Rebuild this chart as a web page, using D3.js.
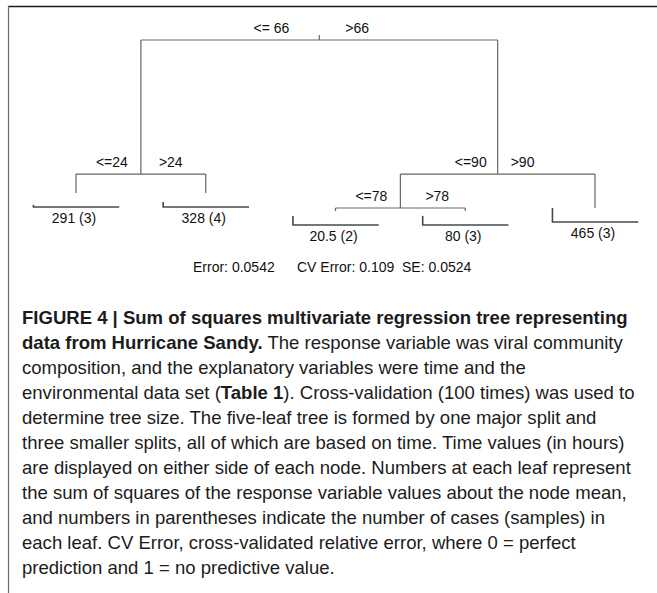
<!DOCTYPE html>
<html>
<head>
<meta charset="utf-8">
<title>Regression tree - Hurricane Sandy</title>
<script src="https://cdn.jsdelivr.net/npm/d3@7"></script>
<style>
    body { margin: 0; background: #fff; }
    svg text { font-family: "Liberation Sans", Arial, Helvetica, sans-serif; fill: #111; }
    .caption text { fill: #1c1c1c; }
</style>
</head>
<body>
<div id="chart"></div>
<script>
// split nodes (rpart numbering: children of k are 2k and 2k+1)
var nodeIds    = [1, 2, 3, 6];
var nodeLeft   = ["<= 66", "<=24", "<=90", "<=78"];
var nodeRight  = [">66", ">24", ">90", ">78"];
var nodeLevel  = [1.0, 0.234, 0.234, 0.04];     // relative height

// leaves, left to right
var leafIds    = [4, 5, 12, 13, 7];
var leafSS     = ["291", "328", "20.5", "80", "465"];
var leafN      = [3, 4, 2, 3, 3];
var leafLevel  = [0.126, 0.126, 0.023, 0.023, 0.04];
var leafBar    = [0.15, 0.35, 0.65, 0.65, 1.0];

var fitStats   = ["Error: 0.0542", "CV Error: 0.109", "SE: 0.0524"];

// caption: each line is a list of [text, bold]
var captionLines = [
    [["FIGURE 4 | Sum of squares multivariate regression tree representing", true]],
    [["data from Hurricane Sandy.", true], [" The response variable was viral community", false]],
    [["composition, and the explanatory variables were time and the", false]],
    [["environmental data set (", false], ["Table 1", true], ["). Cross-validation (100 times) was used to", false]],
    [["determine tree size. The five-leaf tree is formed by one major split and", false]],
    [["three smaller splits, all of which are based on time. Time values (in hours)", false]],
    [["are displayed on either side of each node. Numbers at each leaf represent", false]],
    [["the sum of squares of the response variable values about the node mean,", false]],
    [["and numbers in parentheses indicate the number of cases (samples) in", false]],
    [["each leaf. CV Error, cross-validated relative error, where 0 = perfect", false]],
    [["prediction and 1 = no predictive value.", false]]
];

var width = 657, height = 593;
var svg = d3.select("#chart").append("svg")
    .attr("width", width)
    .attr("height", height);

// frame (top and left rules)
svg.append("line").attr("x1", 8).attr("y1", 6.5).attr("x2", width).attr("y2", 6.5)
    .attr("stroke", "#1a1a1a").attr("stroke-width", 1.5);
svg.append("line").attr("x1", 8.5).attr("y1", 6).attr("x2", 8.5).attr("y2", height)
    .attr("stroke", "#6a6a6a").attr("stroke-width", 1.2);

var x = d3.scaleLinear().domain([0, leafIds.length - 1]).range([76, 595]);
var y = d3.scaleLinear().domain([0, 1]).range([215, 40]);
var bar = d3.scaleLinear().domain([0, 1]).range([0, 14]);

// positions for every node
var pos = {};
leafIds.forEach(function(id, i) {
    pos[id] = {x: x(i), y: y(leafLevel[i])};
});
function place(id) {
    if (pos[id]) return pos[id];
    var k = nodeIds.indexOf(id);
    var l = place(2 * id), r = place(2 * id + 1);
    pos[id] = {x: (l.x + r.x) / 2, y: y(nodeLevel[k])};
    return pos[id];
}
place(1);

var g = svg.append("g")
    .attr("stroke", "#666")
    .attr("stroke-width", 1.2)
    .attr("fill", "none");

// root stub
g.append("line")
    .attr("x1", pos[1].x).attr("x2", pos[1].x)
    .attr("y1", pos[1].y - 5).attr("y2", pos[1].y);

// gaps between node and split labels
var gapL = [30, 13, 11, 13];
var gapR = [26, 18, 13, 25];

nodeIds.forEach(function(id, k) {
    var p = pos[id], l = pos[2 * id], r = pos[2 * id + 1];
    g.append("line")
        .attr("x1", l.x).attr("x2", r.x)
        .attr("y1", p.y).attr("y2", p.y);
    [l, r].forEach(function(c) {
        g.append("line")
            .attr("x1", c.x).attr("x2", c.x)
            .attr("y1", p.y).attr("y2", c.y);
    });
    svg.append("text")
        .attr("x", p.x - gapL[k]).attr("y", p.y - 7)
        .attr("text-anchor", "end")
        .attr("font-size", 14)
        .text(nodeLeft[k]);
    svg.append("text")
        .attr("x", p.x + gapR[k]).attr("y", p.y - 7)
        .attr("text-anchor", "start")
        .attr("font-size", 14)
        .text(nodeRight[k]);
});

// leaves
var half = (x(1) - x(0)) / 3;
leafIds.forEach(function(id, i) {
    var p = pos[id];
    var ly = p.y + 14;
    svg.append("line")
        .attr("x1", p.x - half).attr("x2", p.x + half)
        .attr("y1", ly).attr("y2", ly)
        .attr("stroke", "#3f4a54").attr("stroke-width", 1.4);
    svg.append("line")
        .attr("x1", p.x - half + 0.7).attr("x2", p.x - half + 0.7)
        .attr("y1", ly - bar(leafBar[i])).attr("y2", ly)
        .attr("stroke", "#3f4a54").attr("stroke-width", 1.6);
    svg.append("text")
        .attr("x", p.x - 2).attr("y", ly + 16)
        .attr("text-anchor", "middle")
        .attr("font-size", 14)
        .text(leafSS[i] + " (" + leafN[i] + ")");
});

// fit statistics
var statX = [193, 297, 402];
fitStats.forEach(function(s, i) {
    svg.append("text")
        .attr("x", statX[i]).attr("y", 272)
        .attr("font-size", 14)
        .text(s);
});

// caption
var capX = 22, capY = 324, capStep = 25;
var cap = svg.append("g").attr("class", "caption");
var lines = cap.selectAll("text")
    .data(captionLines)
    .enter().append("text")
    .attr("x", capX)
    .attr("y", function(d, i) { return capY + i * capStep; })
    .attr("font-size", 16);
lines.selectAll("tspan")
    .data(function(d) { return d; })
    .enter().append("tspan")
    .attr("font-weight", function(d) { return d[1] ? "bold" : "normal"; })
    .text(function(d) { return d[0]; });

// fit caption size to the widest body line in the figure
var ref = lines.nodes()[3];
var target = 635 - capX;
var fs = 16 * target / ref.getComputedTextLength();
lines.attr("font-size", fs);
</script>
</body>
</html>
